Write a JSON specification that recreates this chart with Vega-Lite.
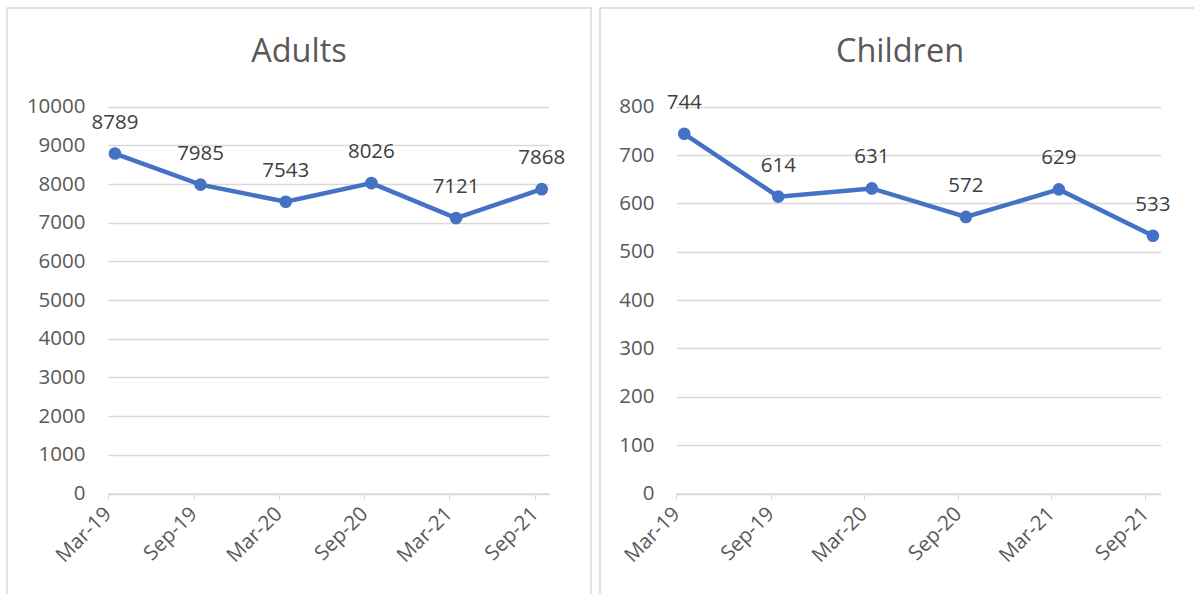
{
  "$schema": "https://vega.github.io/schema/vega-lite/v6.json",
  "padding": {"left": 6, "top": 7, "right": 0, "bottom": 0},
  "autosize": {"type": "pad"},
  "spacing": 7,
  "background": "white",
  "data": {
    "values": [
      {"group": "Adults", "date": "2019-03-01", "count": 8789},
      {"group": "Adults", "date": "2019-09-01", "count": 7985},
      {"group": "Adults", "date": "2020-03-01", "count": 7543},
      {"group": "Adults", "date": "2020-09-01", "count": 8026},
      {"group": "Adults", "date": "2021-03-01", "count": 7121},
      {"group": "Adults", "date": "2021-09-01", "count": 7868},
      {"group": "Children", "date": "2019-03-01", "count": 744},
      {"group": "Children", "date": "2019-09-01", "count": 614},
      {"group": "Children", "date": "2020-03-01", "count": 631},
      {"group": "Children", "date": "2020-09-01", "count": 572},
      {"group": "Children", "date": "2021-03-01", "count": 629},
      {"group": "Children", "date": "2021-09-01", "count": 533}
    ]
  },
  "config": {
    "view": {"stroke": "#d9d9d9", "strokeWidth": 1.5},
    "axis": {
      "labelFont": "Open Sans",
      "labelFontSize": 20.5,
      "labelColor": "#595959",
      "domainColor": "#d9d9d9",
      "tickColor": "#d9d9d9",
      "gridColor": "#d9d9d9",
      "labelOverlap": false,
      "labelFlush": false
    },
    "title": {
      "font": "Open Sans",
      "fontSize": 32.5,
      "fontWeight": "normal",
      "color": "#595959",
      "anchor": "middle",
      "frame": "group",
      "offset": -60,
      "baseline": "alphabetic"
    }
  },
  "hconcat": [
    {
      "width": 584,
      "height": 592,
      "title": "Adults",
      "transform": [{"filter": "datum.group === 'Adults'"}],
      "encoding": {
        "x": {
          "field": "date",
          "timeUnit": "utcyearmonth",
          "type": "temporal",
          "bandPosition": 0.5,
          "scale": {
            "type": "utc",
            "domain": [
              {"year": 2019, "month": 3, "date": 1, "utc": true},
              {"year": 2021, "month": 10, "date": 1, "utc": true}
            ],
            "range": [100.7, 541.7]
          },
          "axis": {
            "title": null,
            "orient": "bottom",
            "offset": -106.5,
            "values": [
              {"year": 2019, "month": 3, "date": 1, "utc": true},
              {"year": 2019, "month": 9, "date": 1, "utc": true},
              {"year": 2020, "month": 3, "date": 1, "utc": true},
              {"year": 2020, "month": 9, "date": 1, "utc": true},
              {"year": 2021, "month": 3, "date": 1, "utc": true},
              {"year": 2021, "month": 9, "date": 1, "utc": true}
            ],
            "labelExpr": "utcFormat(datum.value, '%b-%y')",
            "labelAngle": -45,
            "labelAlign": "right",
            "labelBaseline": "middle",
            "labelPadding": 11,
            "tickSize": 6,
            "grid": false,
            "domainWidth": 1.3
          }
        },
        "y": {
          "field": "count",
          "type": "quantitative",
          "scale": {"domain": [0, 10000], "range": [485.5, 98.7], "nice": false},
          "axis": {
            "title": null,
            "orient": "left",
            "offset": -78,
            "values": [0, 1000, 2000, 3000, 4000, 5000, 6000, 7000, 8000, 9000, 10000],
            "format": "d",
            "domain": false,
            "ticks": false,
            "tickSize": 0,
            "labelPadding": 0,
            "grid": true,
            "gridWidth": 1.3
          }
        }
      },
      "layer": [
        {"mark": {"type": "line", "color": "#4472C4", "strokeWidth": 4.5}},
        {"mark": {"type": "point", "filled": true, "opacity": 1, "size": 160, "color": "#4472C4", "strokeWidth": 0}},
        {
          "mark": {"type": "text", "dy": -25, "baseline": "alphabetic", "align": "center", "font": "Open Sans", "fontSize": 20.5, "color": "#404040"},
          "encoding": {"text": {"field": "count", "type": "quantitative", "format": "d"}}
        }
      ]
    },
    {
      "width": 600,
      "height": 592,
      "title": "Children",
      "transform": [{"filter": "datum.group === 'Children'"}],
      "encoding": {
        "x": {
          "field": "date",
          "timeUnit": "utcyearmonth",
          "type": "temporal",
          "bandPosition": 0.5,
          "scale": {
            "type": "utc",
            "domain": [
              {"year": 2019, "month": 3, "date": 1, "utc": true},
              {"year": 2021, "month": 10, "date": 1, "utc": true}
            ],
            "range": [76.3, 560.6]
          },
          "axis": {
            "title": null,
            "orient": "bottom",
            "offset": -106.5,
            "values": [
              {"year": 2019, "month": 3, "date": 1, "utc": true},
              {"year": 2019, "month": 9, "date": 1, "utc": true},
              {"year": 2020, "month": 3, "date": 1, "utc": true},
              {"year": 2020, "month": 9, "date": 1, "utc": true},
              {"year": 2021, "month": 3, "date": 1, "utc": true},
              {"year": 2021, "month": 9, "date": 1, "utc": true}
            ],
            "labelExpr": "utcFormat(datum.value, '%b-%y')",
            "labelAngle": -45,
            "labelAlign": "right",
            "labelBaseline": "middle",
            "labelPadding": 11,
            "tickSize": 6,
            "grid": false,
            "domainWidth": 1.3
          }
        },
        "y": {
          "field": "count",
          "type": "quantitative",
          "scale": {"domain": [0, 800], "range": [485.5, 98.7], "nice": false},
          "axis": {
            "title": null,
            "orient": "left",
            "offset": -54,
            "values": [0, 100, 200, 300, 400, 500, 600, 700, 800],
            "format": "d",
            "domain": false,
            "ticks": false,
            "tickSize": 0,
            "labelPadding": 0,
            "grid": true,
            "gridWidth": 1.3
          }
        }
      },
      "layer": [
        {"mark": {"type": "line", "color": "#4472C4", "strokeWidth": 4.5}},
        {"mark": {"type": "point", "filled": true, "opacity": 1, "size": 160, "color": "#4472C4", "strokeWidth": 0}},
        {
          "mark": {"type": "text", "dy": -25, "baseline": "alphabetic", "align": "center", "font": "Open Sans", "fontSize": 20.5, "color": "#404040"},
          "encoding": {"text": {"field": "count", "type": "quantitative", "format": "d"}}
        }
      ]
    }
  ]
}
